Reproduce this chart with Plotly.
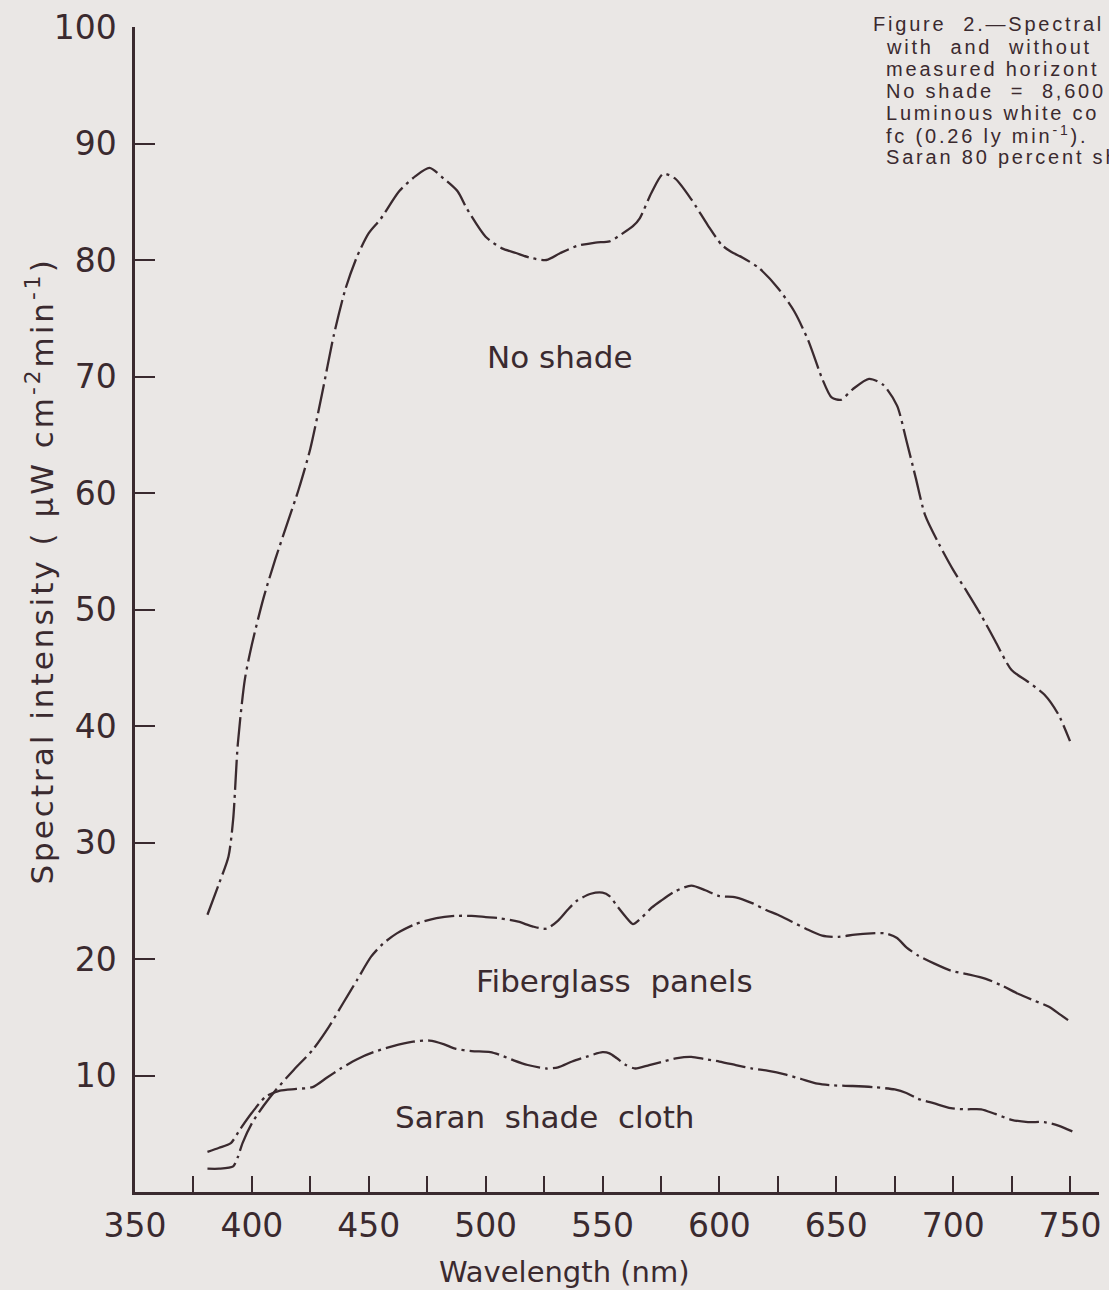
import plotly.graph_objects as go

# ---- data ----
no_shade_nm = [381, 386, 390, 392, 394, 397, 400, 405, 410, 415, 420, 425, 430, 435, 440, 445,
               450, 455, 463, 470, 476, 482, 488, 492, 500, 507, 513, 519, 526, 532, 539, 547,
               553, 558, 563, 566, 571, 576, 581, 588, 595, 601, 605, 610, 617, 625, 632, 638,
               644, 648, 652, 657, 664, 670, 676, 680, 684, 688, 694, 700, 706, 712, 718, 725,
               732, 739, 745, 750]
no_shade_val = [23.8, 26.5, 28.8, 32.0, 38.5, 44.0, 47.0, 51.0, 54.3, 57.3, 60.3, 63.8, 68.5, 73.5,
                77.5, 80.3, 82.3, 83.5, 85.9, 87.2, 87.9, 87.0, 85.9, 84.4, 82.0, 81.0, 80.6, 80.2,
                80.0, 80.6, 81.2, 81.5, 81.6, 82.2, 82.9, 83.6, 85.8, 87.4, 87.0, 85.2, 83.0, 81.3,
                80.7, 80.2, 79.3, 77.6, 75.6, 73.1, 69.8, 68.2, 68.0, 68.9, 69.8, 69.3, 67.5, 64.5,
                61.3, 58.1, 55.6, 53.4, 51.5, 49.5, 47.3, 44.8, 43.8, 42.7, 41.0, 38.7]

fiber_nm = [381, 386, 392, 394, 396, 400, 405, 410, 418, 426, 433, 439, 445, 451, 456, 462, 470,
            479, 487, 494, 500, 506, 514, 520, 526, 531, 535, 539, 545, 550, 553, 556, 560, 563,
            567, 571, 575, 581, 588, 594, 600, 607, 614, 620, 625, 631, 637, 644, 651, 658, 665,
            671, 676, 680, 685, 692, 699, 706, 714, 721, 728, 735, 741, 746, 751]
fiber_val = [2.0, 2.0, 2.2, 3.0, 4.2, 5.9, 7.4, 8.7, 10.5, 12.2, 14.2, 16.2, 18.2, 20.2, 21.3, 22.2,
             23.0, 23.5, 23.7, 23.7, 23.6, 23.5, 23.2, 22.8, 22.6, 23.3, 24.2, 25.0, 25.6, 25.7,
             25.4, 24.6, 23.6, 23.0, 23.6, 24.4, 25.0, 25.8, 26.3, 25.9, 25.4, 25.3, 24.8, 24.2,
             23.8, 23.2, 22.6, 22.0, 21.9, 22.1, 22.2, 22.2, 21.8, 21.0, 20.3, 19.6, 19.0, 18.7,
             18.3, 17.7, 17.0, 16.4, 15.9, 15.2, 14.5]

saran_nm = [381, 386, 391, 395, 400, 406, 412, 419, 426, 432, 438, 445, 452, 460, 469, 476, 482,
            487, 494, 502, 507, 512, 518, 526, 531, 537, 543, 550, 553, 556, 560, 564, 570, 576,
            582, 588, 594, 600, 607, 614, 621, 628, 635, 642, 649, 657, 666, 675, 680, 685, 692,
            699, 705, 712, 718, 725, 732, 739, 745, 751]
saran_val = [3.45, 3.8, 4.2, 5.4, 6.8, 8.2, 8.7, 8.85, 9.0, 9.8, 10.6, 11.4, 12.0, 12.5, 12.9, 13.0,
             12.7, 12.3, 12.1, 12.0, 11.7, 11.3, 10.9, 10.6, 10.7, 11.2, 11.6, 12.0, 11.9, 11.5,
             10.9, 10.6, 10.9, 11.2, 11.5, 11.6, 11.4, 11.2, 10.9, 10.6, 10.4, 10.1, 9.7, 9.3,
             9.15, 9.1, 9.0, 8.8, 8.5, 8.0, 7.6, 7.2, 7.1, 7.1, 6.7, 6.2, 6.0, 6.0, 5.7, 5.2]

y_tick_vals = [10, 20, 30, 40, 50, 60, 70, 80, 90, 100]
y_tick_text = ["10", "20", "30", "40", "50", "60", "70", "80", "90", "100"]
x_tick_vals = [350, 400, 450, 500, 550, 600, 650, 700, 750]

caption_lines = [
    "Figure  2.\u2014Spectral",
    "with  and  without",
    "measured horizont",
    "No shade  =  8,600",
    "Luminous white co",
    "fc (0.26 ly min<sup>-1</sup>).",
    "Saran 80 percent sh",
]

INK = "#3a2a2f"
BG = "#eae7e5"
GEO = "DejaVu Sans"
CAP = "Liberation Sans"

fig = go.Figure()
dash = "30px,5px,3px,5px"
for xs, ys in [(no_shade_nm, no_shade_val), (fiber_nm, fiber_val), (saran_nm, saran_val)]:
    fig.add_trace(go.Scatter(x=xs, y=ys, mode="lines",
                             line=dict(color=INK, width=2.3, dash=dash, shape="spline", smoothing=0.7),
                             showlegend=False, hoverinfo="skip"))

fig.update_layout(
    width=1109, height=1290,
    margin=dict(l=135, r=8, t=25, b=98),
    paper_bgcolor=BG, plot_bgcolor=BG,
    font=dict(family=GEO, color=INK),
    xaxis=dict(range=[350, 762.4], showgrid=False, zeroline=False, showline=True,
               linecolor=INK, linewidth=2.5, ticks="inside", ticklen=16, tickwidth=2,
               tickcolor=INK, tickvals=x_tick_vals, tickfont=dict(size=33, family=GEO, color=INK),
               ticklabelstandoff=3,
               minor=dict(ticks="inside", dtick=25, tick0=350, ticklen=16, tickwidth=2, tickcolor=INK)),
    yaxis=dict(range=[0, 100], showgrid=False, zeroline=False, showline=True,
               linecolor=INK, linewidth=2.5, ticks="inside", ticklen=20, tickwidth=2,
               tickcolor=INK, tickvals=y_tick_vals, ticktext=y_tick_text,
               tickfont=dict(size=33, family=GEO, color=INK), ticklabelstandoff=9),
)

# curve labels
fig.add_annotation(x=532, y=71.7, text="No shade", showarrow=False,
                   font=dict(size=31, family=GEO, color=INK))
fig.add_annotation(x=555.3, y=18.1, text="Fiberglass  panels", showarrow=False,
                   font=dict(size=31, family=GEO, color=INK))
fig.add_annotation(x=525, y=6.4, text="Saran  shade  cloth", showarrow=False,
                   font=dict(size=31, family=GEO, color=INK))

# axis titles
fig.add_annotation(xref="paper", yref="paper", x=0.446, y=-0.0686, text="Wavelength (nm)",
                   showarrow=False, font=dict(size=29, family=GEO, color=INK), yanchor="middle")
fig.add_annotation(xref="paper", yref="paper", x=-0.098, y=0.533,
                   text="Spectral intensity ( \u03bcW cm<sup>-2</sup>min<sup>-1</sup>)",
                   textangle=-90, showarrow=False, font=dict(size=31, family=GEO, color=INK),
                   xanchor="center", yanchor="middle")

# caption (cut by the page edge as in the original)
cap_y_px = [22, 45, 67, 89, 111, 133, 155]
for i, (line, ypx) in enumerate(zip(caption_lines, cap_y_px)):
    xpx = 873 if i == 0 else 886
    fig.add_annotation(xref="paper", yref="paper",
                       x=(xpx - 135) / 966, y=(1192 - ypx) / 1167,
                       text=line, showarrow=False, xanchor="left", yanchor="middle",
                       font=dict(size=20, family=CAP, color=INK))

js = """
document.body.style.margin='0';
document.body.style.background='#eae7e5';
document.documentElement.style.background='#eae7e5';
var ts = document.querySelectorAll('text.annotation-text');
var n = ts.length;
for (var i = 0; i < n; i++) {
  var t = ts[i];
  if (i >= n - 7) {
    var b0 = t.getBBox().x;
    t.style.letterSpacing = '2.8px';
    var b1 = t.getBBox().x;
    t.setAttribute('transform', 'translate(' + (b0 - b1) + ',0)');
  } else if (t.textContent.indexOf('Spectral intensity') === 0) {
    t.style.letterSpacing = '3px';
  }
}
"""

fig.write_html("out.html", config={"displayModeBar": False}, post_script=js)
